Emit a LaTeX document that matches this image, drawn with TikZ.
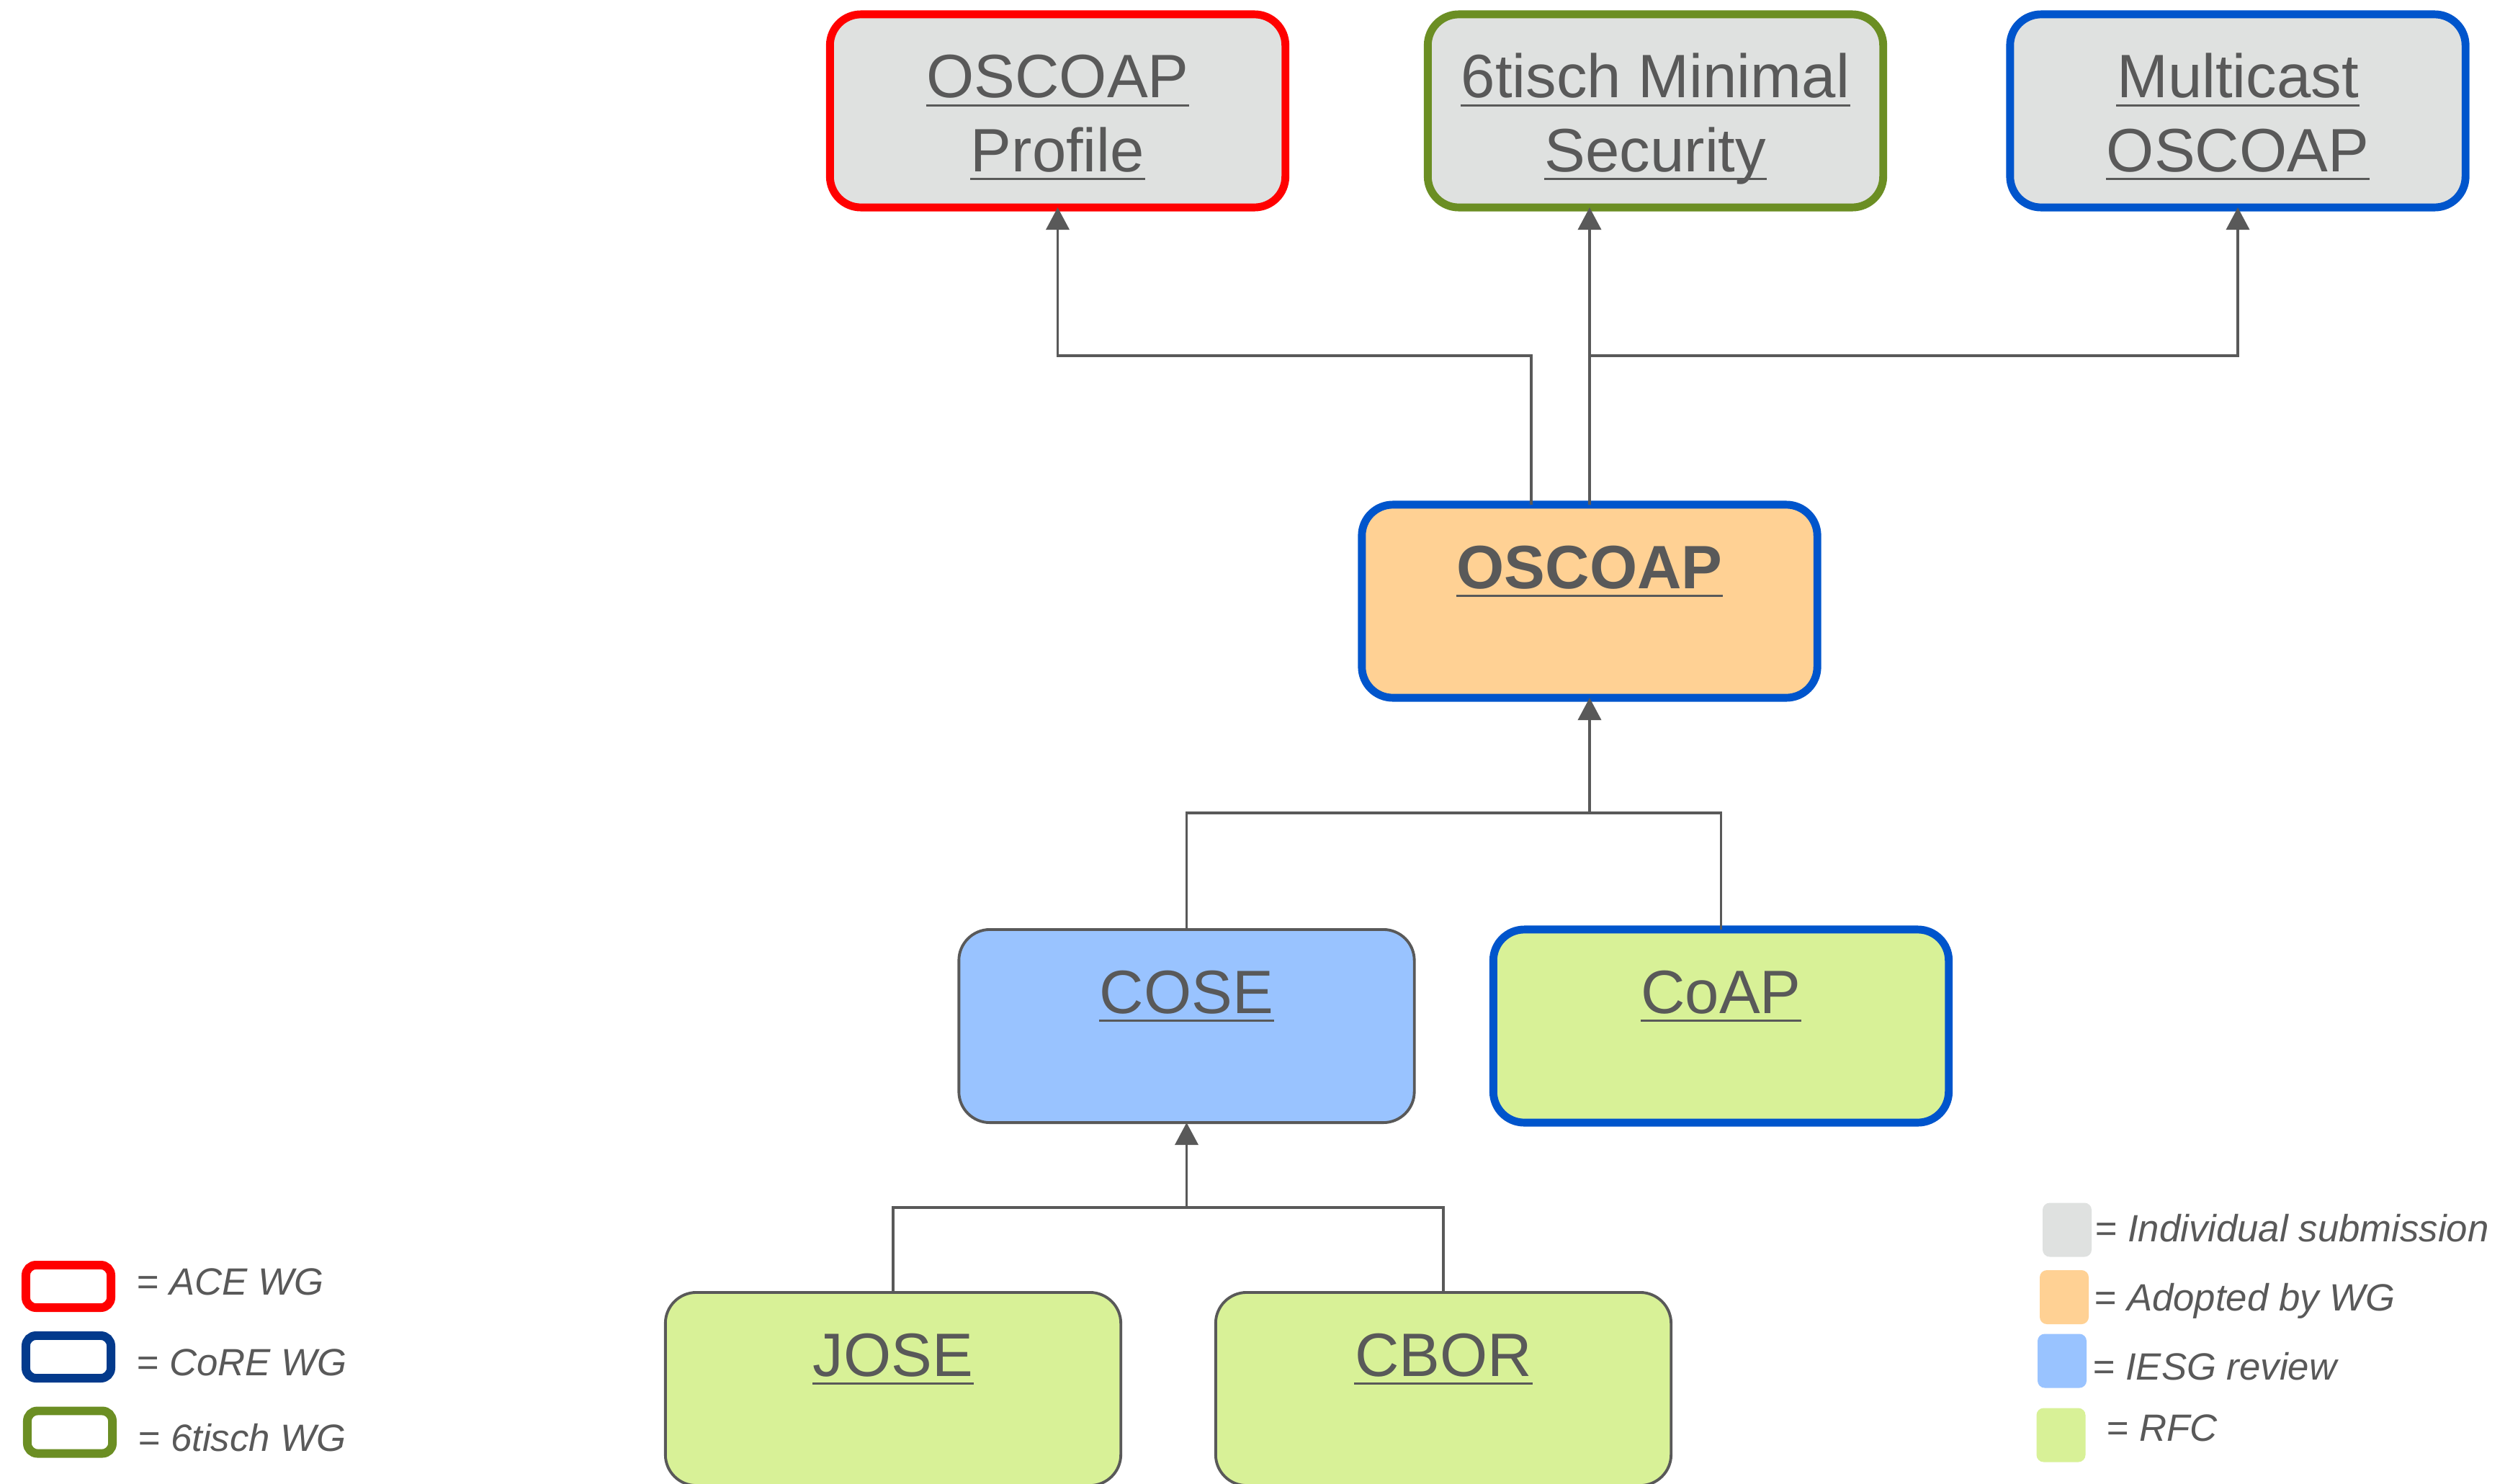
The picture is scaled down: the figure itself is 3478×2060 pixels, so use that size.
\documentclass[tikz,border=0pt]{standalone}
\usepackage{fontspec}
\setmainfont{Liberation Sans}
\usetikzlibrary{arrows.meta}
\definecolor{txtgray}{HTML}{595959}
\definecolor{aceRed}{HTML}{FF0000}
\definecolor{coreBlue}{HTML}{0055CC}
\definecolor{legNavy}{HTML}{033A8C}
\definecolor{tischGreen}{HTML}{6B8E23}
\definecolor{indGray}{HTML}{DFE1E0}
\definecolor{adoptOrange}{HTML}{FFD194}
\definecolor{iesgBlue}{HTML}{99C3FF}
\definecolor{rfcGreen}{HTML}{D8F197}
\tikzset{
  box/.style={rectangle, rounded corners=0.43cm, minimum width=6.32cm, minimum height=2.68cm, inner sep=0pt, outer sep=0pt},
  thickbox/.style={box, line width=3.1pt},
  thinbox/.style={box, draw=txtgray, line width=1.1pt},
  uline/.style={draw=txtgray, line width=1pt},
  utext/.style={font=\fontsize{24.2}{29}\selectfont, text=txtgray, inner sep=0pt, anchor=base,
    append after command={([yshift=-0.105cm]\tikzlastnode.base west) edge[uline] ([yshift=-0.105cm]\tikzlastnode.base east)}},
  conn/.style={draw=txtgray, line width=1.1pt},
  arr/.style={conn, -{Triangle[length=0.31cm,width=0.32cm]}},
  legtext/.style={font=\itshape\fontsize{15}{18}\selectfont, text=txtgray, inner sep=0pt, anchor=base west},
  legwg/.style={rectangle, rounded corners=0.14cm, minimum width=1.18cm, minimum height=0.59cm, line width=3.4pt, fill=white, inner sep=0pt},
  legfill/.style={rectangle, rounded corners=0.1cm, minimum width=0.68cm, minimum height=0.75cm, inner sep=0pt},
}
\begin{document}
\begin{tikzpicture}[x=0.01cm, y=-0.01cm]
\path[use as bounding box, fill=white] (0,0) rectangle (3478,2060);

% boxes
\node[thickbox, draw=aceRed, fill=indGray] (profile) at (1468.5,154) {};
\node[thickbox, draw=tischGreen, fill=indGray] (tisch) at (2298.5,154) {};
\node[thickbox, draw=coreBlue, fill=indGray] (mcast) at (3107,154) {};
\node[thickbox, draw=coreBlue, fill=adoptOrange] (oscoap) at (2207,835) {};
\node[thinbox, fill=iesgBlue] (cose) at (1647.5,1425) {};
\node[thickbox, draw=coreBlue, fill=rfcGreen] (coap) at (2389.5,1425) {};
\node[thinbox, fill=rfcGreen] (jose) at (1240,1929) {};
\node[thinbox, fill=rfcGreen] (cbor) at (2004,1929) {};

% texts
\node[utext] (profile-a) at ([yshift=-1.16cm]profile.north) {OSCOAP};
\node[utext] (profile-b) at ([yshift=-2.18cm]profile.north) {Profile};
\node[utext] (tisch-a) at ([yshift=-1.16cm]tisch.north) {6tisch Minimal};
\node[utext] (tisch-b) at ([yshift=-2.18cm]tisch.north) {Security};
\node[utext] (mcast-a) at ([yshift=-1.16cm]mcast.north) {Multicast};
\node[utext] (mcast-b) at ([yshift=-2.18cm]mcast.north) {OSCOAP};
\node[utext, font=\bfseries\fontsize{24.2}{29}\selectfont] (oscoap-a) at ([yshift=-1.16cm]oscoap.north) {OSCOAP};
\node[utext] (cose-a) at ([yshift=-1.16cm]cose.north) {COSE};
\node[utext] (coap-a) at ([yshift=-1.16cm]coap.north) {CoAP};
\node[utext] (jose-a) at ([yshift=-1.16cm]jose.north) {JOSE};
\node[utext] (cbor-a) at ([yshift=-1.16cm]cbor.north) {CBOR};

% connectors
\coordinate (topbus) at (0,494);
\coordinate (midbus) at (0,1129);
\coordinate (lowbus) at (0,1677);
\draw[arr] ([xshift=-0.81cm]oscoap.north) |- (profile.south |- topbus) -- (profile.south);
\draw[arr] (oscoap.north) -- (oscoap.north |- tisch.south);
\draw[arr] (oscoap.north |- topbus) -| (mcast.south);
\draw[conn] (cose.north) |- (coap.north |- midbus) -- (coap.north);
\draw[arr] (oscoap.south |- midbus) -- (oscoap.south);
\draw[conn] (jose.north) |- (cbor.north |- lowbus) -- (cbor.north);
\draw[arr] (cose.south |- lowbus) -- (cose.south);

% left legend
\node[legwg, draw=aceRed] (leg-ace) at (95,1786.5) {};
\node[legwg, draw=legNavy] (leg-core) at (95,1884.5) {};
\node[legwg, draw=tischGreen] (leg-tisch) at (97,1989) {};
\node[legtext] (leg-ace-t) at (189,1798) {= ACE WG};
\node[legtext] (leg-core-t) at (189,1910) {= CoRE WG};
\node[legtext] (leg-tisch-t) at (191,2015) {= 6tisch WG};

% right legend
\node[legfill, fill=indGray] (leg-ind) at (2870,1708) {};
\node[legfill, fill=adoptOrange] (leg-adopt) at (2866,1801.5) {};
\node[legfill, fill=iesgBlue] (leg-iesg) at (2863,1890) {};
\node[legfill, fill=rfcGreen] (leg-rfc) at (2861.5,1993) {};
\node[legtext] (leg-ind-t) at (2908,1724) {= Individual submission};
\node[legtext] (leg-adopt-t) at (2907,1820) {= Adopted by WG};
\node[legtext] (leg-iesg-t) at (2905,1916) {= IESG review};
\node[legtext] (leg-rfc-t) at (2924,2001) {= RFC};
\end{tikzpicture}
\end{document}
